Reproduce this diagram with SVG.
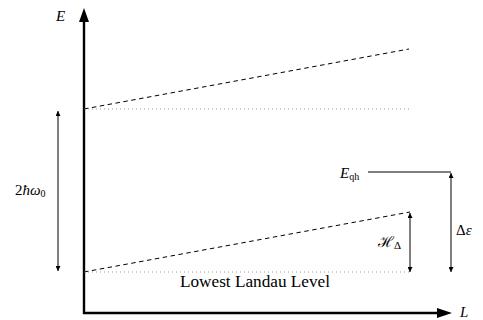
<svg xmlns="http://www.w3.org/2000/svg" width="483" height="320" viewBox="0 0 483 320">
<style>
.lbl{font-family:"Liberation Serif","DejaVu Serif",serif;fill:#000}
.it{font-style:italic}
.axis{stroke:#000;stroke-width:2.4;fill:none}
.dash{stroke:#000;stroke-width:1;stroke-dasharray:4.5 3.5;fill:none}
.dot{stroke:#999;stroke-width:1;stroke-dasharray:1 3;fill:none}
.thin{stroke:#000;stroke-width:1;fill:none}
</style>
<defs>
<marker id="ah" viewBox="0 0 10 10" refX="10" refY="5" markerWidth="7" markerHeight="5" markerUnits="userSpaceOnUse" orient="auto-start-reverse">
<path d="M0,0 L10,5 L0,10 z" fill="#000"/>
</marker>
</defs>
<rect width="483" height="320" fill="#fff"/>
<g id="axes">
<path class="axis" d="M84,20 V313 H439"/>
<path d="M84,8 L89,22 L79,22 z" fill="#000"/>
<path d="M452,313 L437,308 L437,318 z" fill="#000"/>
<text class="lbl it" x="56" y="21" font-size="15">E</text>
<text class="lbl it" x="460" y="317" font-size="15">L</text>
</g>
<g id="levels">
<path class="dot" d="M84,109 H410"/>
<path class="dot" d="M84,272 H410"/>
<path class="dash" d="M84,109 L409,49"/>
<path class="dash" d="M84,272 L410,212"/>
<text class="lbl" x="180" y="287" font-size="16.5" textLength="150" lengthAdjust="spacingAndGlyphs">Lowest Landau Level</text>
</g>
<g id="connectors">
<path class="thin" d="M58,111 V271" marker-start="url(#ah)" marker-end="url(#ah)"/>
<path class="thin" d="M410,213 V272" marker-start="url(#ah)" marker-end="url(#ah)"/>
<path class="thin" d="M368,172 H451"/>
<path class="thin" d="M451,173 V272" marker-start="url(#ah)" marker-end="url(#ah)"/>
</g>
<g id="gap-label">
<text class="lbl" x="15" y="195" font-size="15">2<tspan class="it">ħω</tspan><tspan font-size="10" dy="2">0</tspan></text>
</g>
<g id="eqh-label">
<text class="lbl" x="340" y="178" font-size="15"><tspan class="it">E</tspan><tspan font-size="10" dy="2">qh</tspan></text>
</g>
<g id="h-label">
<text class="lbl" x="378" y="247" font-size="15">ℋ<tspan font-size="11" dy="2">Δ</tspan></text>
</g>
<g id="de-label">
<text class="lbl" x="456" y="235" font-size="15">Δ<tspan class="it">ε</tspan></text>
</g>
</svg>
